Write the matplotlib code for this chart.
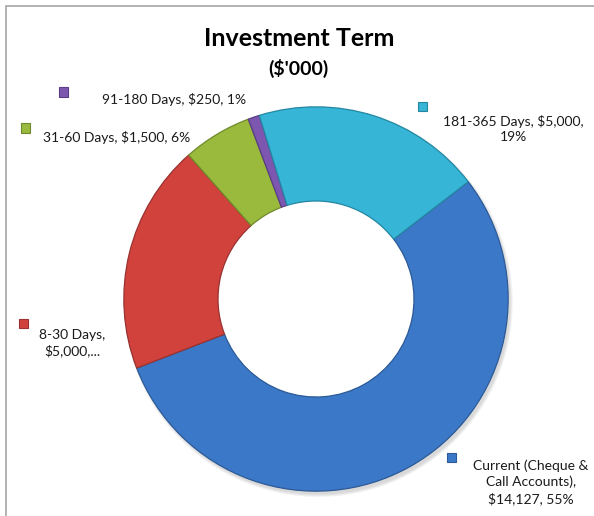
import matplotlib.pyplot as plt
from matplotlib.patches import Rectangle

plt.rcParams['font.family'] = ['Lato', 'DejaVu Sans']

# data
categories = ['Current (Cheque & Call Accounts)', '8-30 Days', '31-60 Days',
              '91-180 Days', '181-365 Days']
values = [14127, 5000, 1500, 250, 5000]
label_texts = ['Current (Cheque &\nCall Accounts),\n$14,127, 55%',
               '8-30 Days,\n$5,000,...',
               '31-60 Days, $1,500, 6%',
               '91-180 Days, $250, 1%',
               '181-365 Days, $5,000,\n19%']
colors = ['#3c78c8', '#d2423c', '#9aba3e', '#7d56b0', '#36b5d6']
edge_colors = ['#2c5a96', '#983230', '#6f8a2a', '#5a3d85', '#2487a2']

W, H = 594, 516
fig = plt.figure(figsize=(W / 100, H / 100), dpi=100)


def px(x, y):
    return x / W, 1 - y / H


# frame (only the left and top edges are in view)
fig.patches.append(Rectangle(px(6, 530), 600 / W, 524 / H, transform=fig.transFigure,
                             fill=False, edgecolor='#a6a6a6', linewidth=1.2))

cx, cy, r = 316, 299, 196
ax = fig.add_axes([(cx - r) / W, (H - cy - r) / H, 2 * r / W, 2 * r / H])

# soft shadow under the outer edge of the ring
for i in range(3):
    ax.pie([1], colors=['#000000'], radius=1.0 + 0.006 * i, center=(0.012, -0.018),
           wedgeprops=dict(width=0.40 + 0.006 * i, linewidth=0, alpha=0.05))

wedges, _ = ax.pie(values, colors=colors, startangle=37.6, counterclock=False,
                   radius=1, wedgeprops=dict(width=0.49, linewidth=0.9))
for w, ec in zip(wedges, edge_colors):
    w.set_edgecolor(ec)
ax.set_xlim(-1.02, 1.02)
ax.set_ylim(-1.02, 1.02)
ax.axis('off')

# title
fig.text(*px(299, 39), 'Investment Term', ha='center', va='center',
         fontsize=18, fontweight='bold')
fig.text(*px(298, 68), "($'000)", ha='center', va='center',
         fontsize=14, fontweight='bold')

# data labels with small legend keys
label_pos = [(531, 482), (72, 343), (117, 138), (174, 99), (513, 129)]
key_pos = [(451, 457), (23, 323), (25, 128), (63, 92), (422, 107)]
for txt, (tx, ty), (kx, ky), c, ec in zip(label_texts, label_pos, key_pos, colors, edge_colors):
    fig.text(*px(tx, ty), txt, ha='center', va='center', fontsize=10,
             linespacing=1.35, color='#1a1a1a')
    fig.patches.append(Rectangle(px(kx - 4.5, ky + 4.5), 9 / W, 9 / H,
                                 transform=fig.transFigure, facecolor=c,
                                 edgecolor=ec, linewidth=0.8))

plt.savefig('out.png', dpi=100)
